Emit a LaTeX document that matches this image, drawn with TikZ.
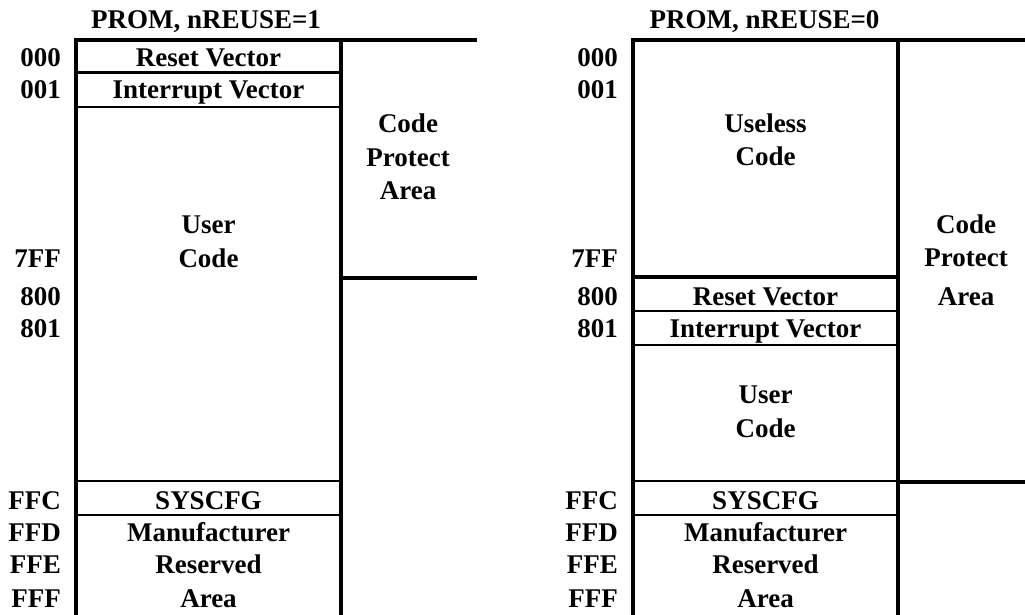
\documentclass[tikz,border=0pt]{standalone}
\usepackage{fontspec}
\setmainfont{Liberation Serif}
\begin{document}
\begin{tikzpicture}[x=1pt,y=-1pt,
  txt/.style={font=\fontsize{27}{30}\selectfont\bfseries, inner sep=0pt, anchor=base},
  addr/.style={font=\fontsize{27}{30}\selectfont\bfseries, inner sep=0pt, anchor=base east},
  thickln/.style={line width=4pt},
  thinln/.style={line width=2.5pt}]
\useasboundingbox (0,0) rectangle (1025,615);
% ---------- left panel ----------
\coordinate (LTL) at (74,40.5);
\coordinate (LTR) at (477,40.5);
\coordinate (LV1t) at (76,38.5);
\coordinate (LV1b) at (76,617);
\coordinate (LV2t) at (341,38.5);
\coordinate (LV2b) at (341,617);
\coordinate (LCPl) at (341,277.5);
\coordinate (LCPr) at (477,277.5);
\draw[thickln] (LTL) -- (LTR);
\draw[thickln] (LV1t) -- (LV1b);
\draw[thickln] (LV2t) -- (LV2b);
\draw[thickln] (LCPl) -- (LCPr);
\coordinate (La1) at (76,72.5);  \coordinate (Lb1) at (341,72.5);
\coordinate (La2) at (76,107);   \coordinate (Lb2) at (341,107);
\coordinate (La3) at (76,481);   \coordinate (Lb3) at (341,481);
\coordinate (La4) at (76,515);   \coordinate (Lb4) at (341,515);
\draw[thinln] (La1) -- (Lb1);
\draw[thinln] (La2) -- (Lb2);
\draw[thinln] (La3) -- (Lb3);
\draw[thinln] (La4) -- (Lb4);
\node[txt] (ltitle) at (206,29) {PROM, nREUSE=1};
\node[addr] (l000) at (61,67) {000};
\node[addr] (l001) at (61,99) {001};
\node[addr] (l7ff) at (61,267) {7FF};
\node[addr] (l800) at (61,305) {800};
\node[addr] (l801) at (61,337.5) {801};
\node[addr] (lffc) at (61,509.5) {FFC};
\node[addr] (lffd) at (61,541) {FFD};
\node[addr] (lffe) at (61,573) {FFE};
\node[addr] (lfff) at (61,607) {FFF};
\node[txt] (lrv) at (208.5,67) {Reset Vector};
\node[txt] (liv) at (208.5,99) {Interrupt Vector};
\node[txt] (luc1) at (208.5,233) {User};
\node[txt] (luc2) at (208.5,267) {Code};
\node[txt] (lcp1) at (408,133) {Code};
\node[txt] (lcp2) at (408,166) {Protect};
\node[txt] (lcp3) at (408,199.5) {Area};
\node[txt] (lsys) at (208.5,509.5) {SYSCFG};
\node[txt] (lm1) at (208.5,541) {Manufacturer};
\node[txt] (lm2) at (208.5,573) {Reserved};
\node[txt] (lm3) at (208.5,607) {Area};
% ---------- right panel ----------
\coordinate (RTL) at (631,40.5);
\coordinate (RTR) at (1027,40.5);
\coordinate (RV1t) at (633,38.5);
\coordinate (RV1b) at (633,617);
\coordinate (RV2t) at (898,38.5);
\coordinate (RV2b) at (898,617);
\coordinate (RUl) at (633,277);
\coordinate (RUr) at (898,277);
\coordinate (RCPl) at (898,482);
\coordinate (RCPr) at (1027,482);
\draw[thickln] (RTL) -- (RTR);
\draw[thickln] (RV1t) -- (RV1b);
\draw[thickln] (RV2t) -- (RV2b);
\draw[thickln] (RUl) -- (RUr);
\draw[thickln] (RCPl) -- (RCPr);
\coordinate (Ra1) at (633,311);  \coordinate (Rb1) at (898,311);
\coordinate (Ra2) at (633,345);  \coordinate (Rb2) at (898,345);
\coordinate (Ra3) at (633,481);  \coordinate (Rb3) at (898,481);
\coordinate (Ra4) at (633,515);  \coordinate (Rb4) at (898,515);
\draw[thinln] (Ra1) -- (Rb1);
\draw[thinln] (Ra2) -- (Rb2);
\draw[thinln] (Ra3) -- (Rb3);
\draw[thinln] (Ra4) -- (Rb4);
\node[txt] (rtitle) at (764.5,29) {PROM, nREUSE=0};
\node[addr] (r000) at (618,67) {000};
\node[addr] (r001) at (618,99) {001};
\node[addr] (r7ff) at (618,267) {7FF};
\node[addr] (r800) at (618,305) {800};
\node[addr] (r801) at (618,337.5) {801};
\node[addr] (rffc) at (618,509.5) {FFC};
\node[addr] (rffd) at (618,541) {FFD};
\node[addr] (rffe) at (618,573) {FFE};
\node[addr] (rfff) at (618,607) {FFF};
\node[txt] (ruc1) at (765.5,133) {Useless};
\node[txt] (ruc2) at (765.5,165) {Code};
\node[txt] (rcp1) at (966,233) {Code};
\node[txt] (rcp2) at (966,266.5) {Protect};
\node[txt] (rcp3) at (966,305) {Area};
\node[txt] (rrv) at (765.5,305) {Reset Vector};
\node[txt] (riv) at (765.5,337.5) {Interrupt Vector};
\node[txt] (ruser1) at (765.5,403.5) {User};
\node[txt] (ruser2) at (765.5,437) {Code};
\node[txt] (rsys) at (765.5,509.5) {SYSCFG};
\node[txt] (rm1) at (765.5,541) {Manufacturer};
\node[txt] (rm2) at (765.5,573) {Reserved};
\node[txt] (rm3) at (765.5,607) {Area};
\end{tikzpicture}
\end{document}
